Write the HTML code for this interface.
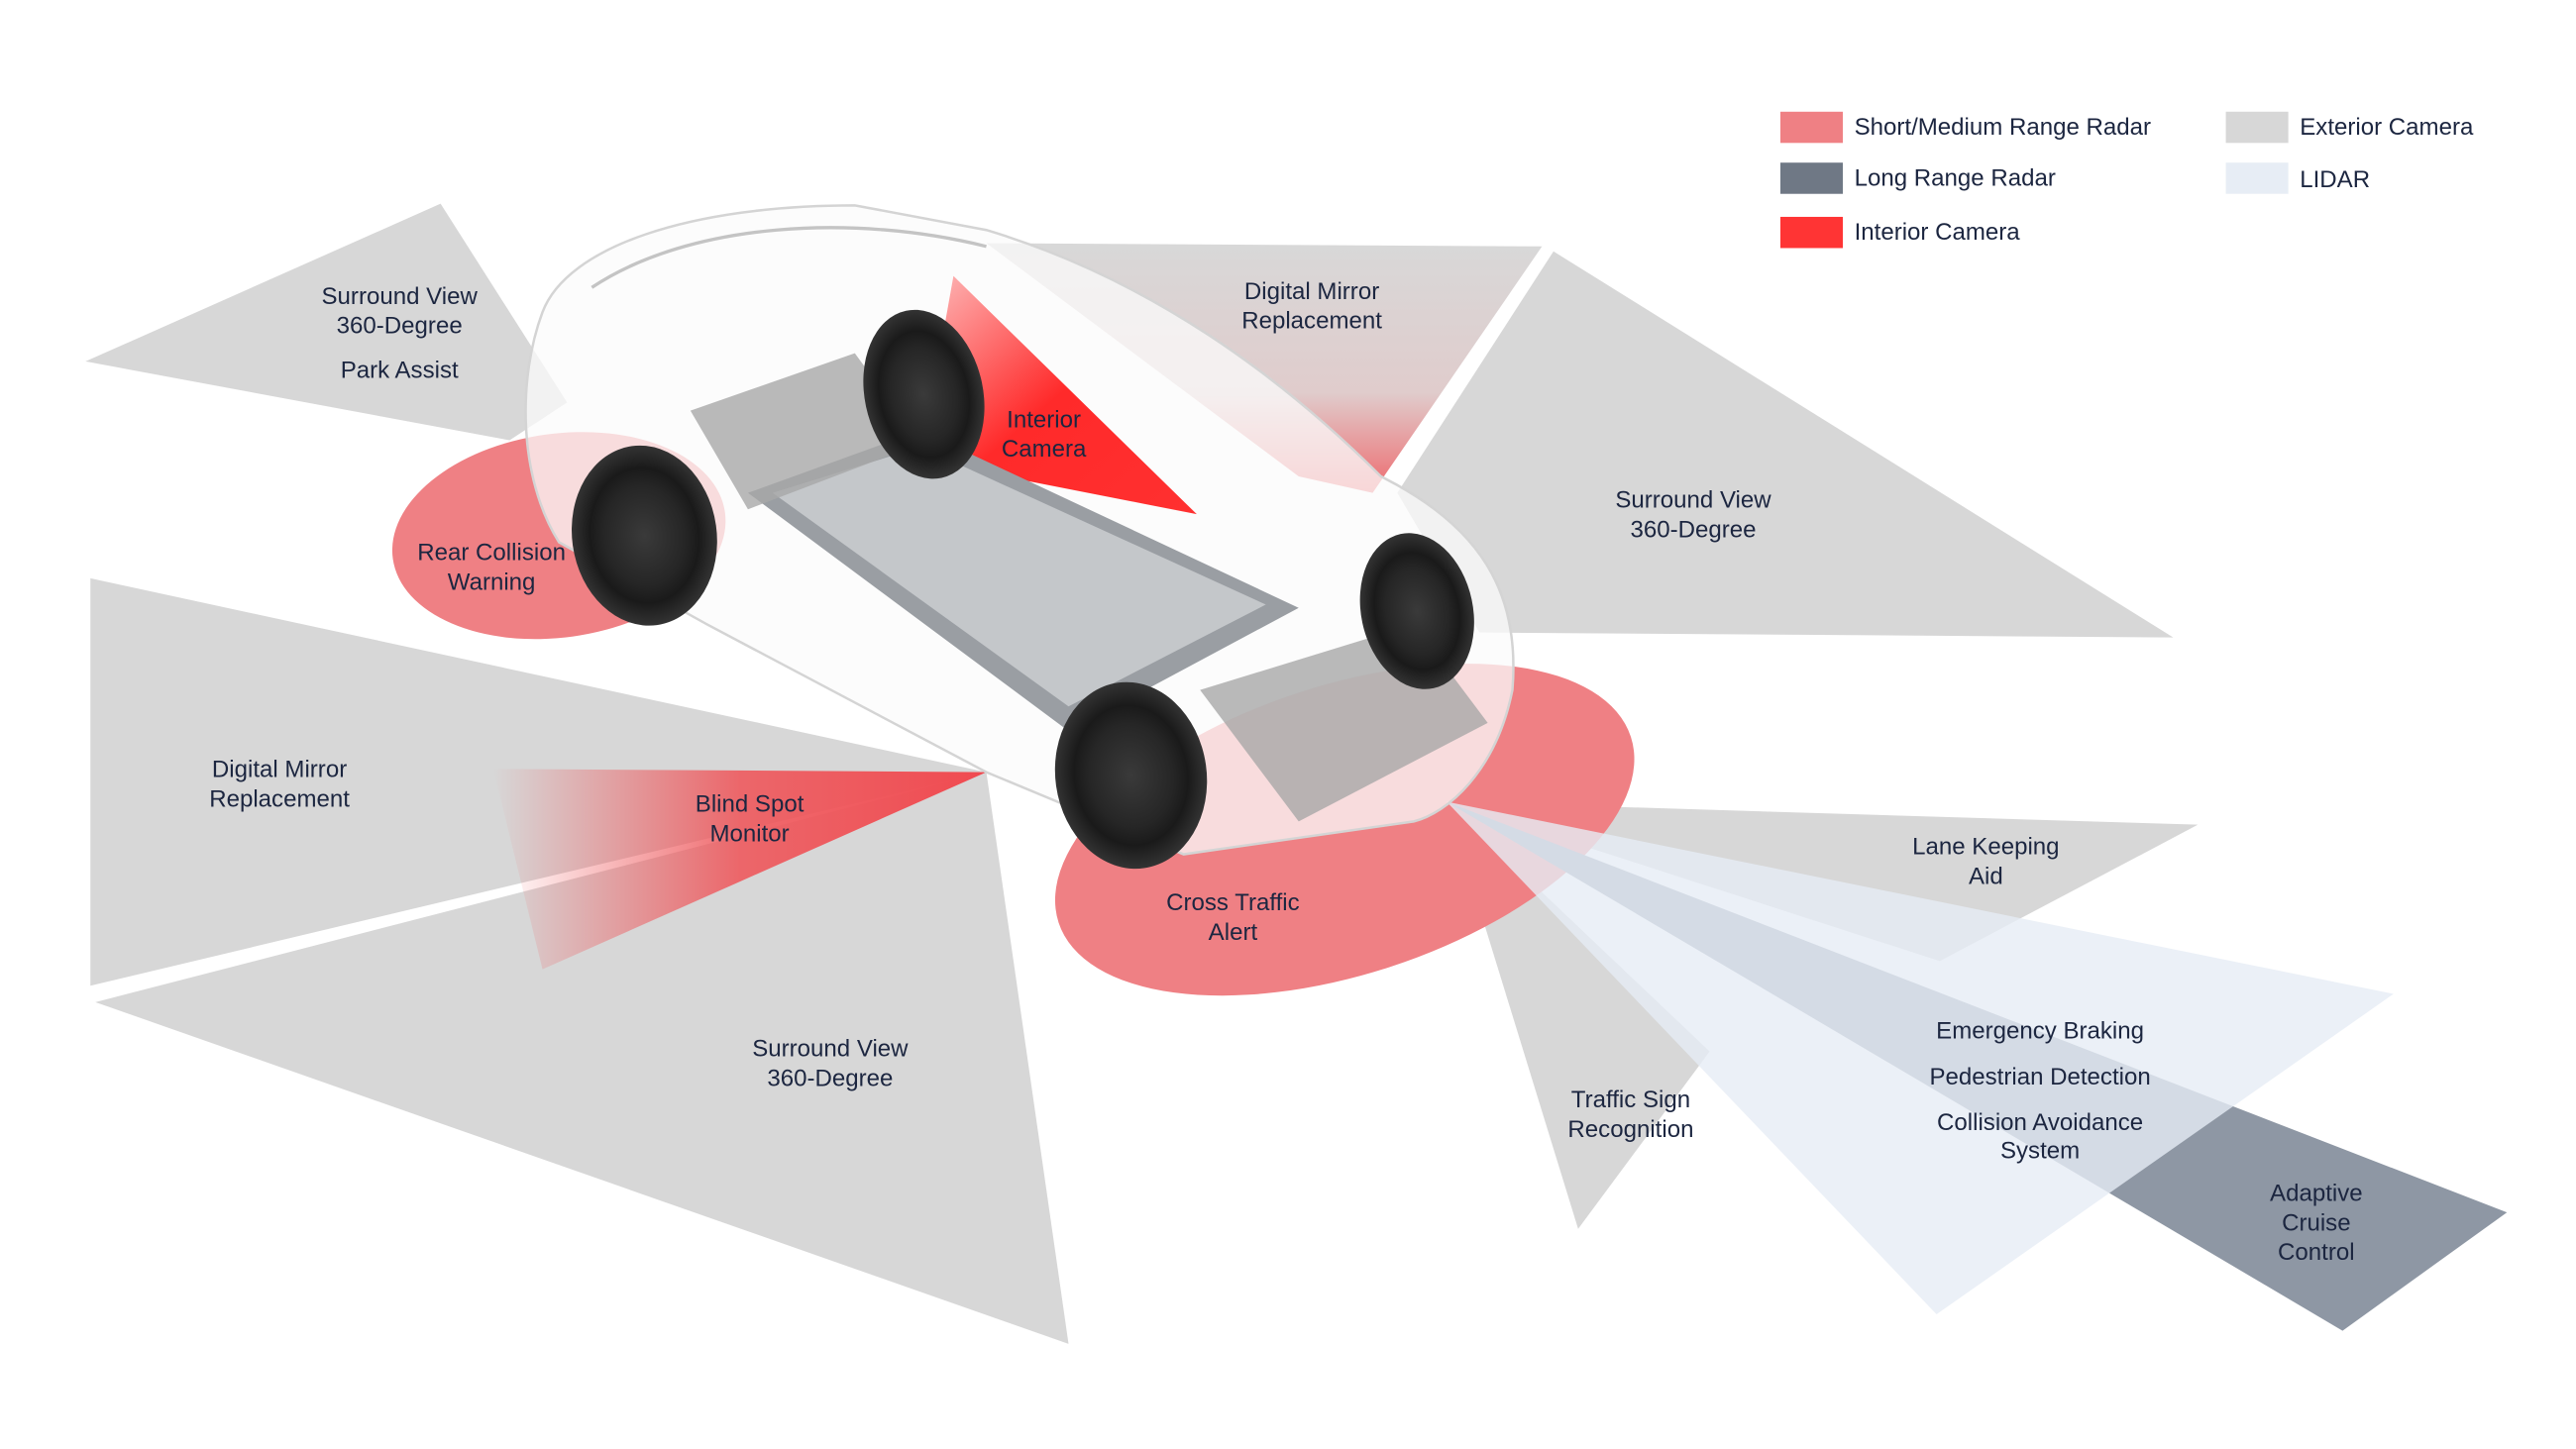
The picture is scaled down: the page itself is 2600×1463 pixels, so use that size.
<!DOCTYPE html>
<html><head><meta charset="utf-8"><style>
html,body{margin:0;padding:0;background:#fff;}
svg{display:block}
text{font-family:"Liberation Sans",sans-serif;font-size:14.5px;fill:#1c2640;text-anchor:middle}
</style></head><body>
<svg width="2600" height="1463" viewBox="0 0 1567 882" preserveAspectRatio="none" xmlns="http://www.w3.org/2000/svg">
<defs>
<linearGradient id="bs" x1="0" y1="0" x2="1" y2="0">
<stop offset="0" stop-color="#ee5a5e" stop-opacity="0"/><stop offset="0.5" stop-color="#ee5a5e" stop-opacity="0.9"/><stop offset="1" stop-color="#f04a50"/></linearGradient>
<linearGradient id="ic" x1="0" y1="0" x2="1" y2="1">
<stop offset="0" stop-color="#ff2a2a" stop-opacity="0.3"/><stop offset="0.5" stop-color="#ff2a2a"/><stop offset="1" stop-color="#ff3030"/></linearGradient>
<linearGradient id="dm" x1="0" y1="0" x2="0" y2="1">
<stop offset="0" stop-color="#d8d8d8"/><stop offset="0.6" stop-color="#e0cccc"/><stop offset="1" stop-color="#ee6a6e"/></linearGradient>
<radialGradient id="wh" cx="0.5" cy="0.5" r="0.5"><stop offset="0" stop-color="#3a3a3a"/><stop offset="0.55" stop-color="#262626"/><stop offset="0.75" stop-color="#1a1a1a"/><stop offset="1" stop-color="#333"/></radialGradient>
</defs>
<polygon points="52,220 268,124 345,245 310,268" fill="#d7d7d7"/>
<polygon points="55,352 600,470 55,600" fill="#d7d7d7"/>
<polygon points="58,610 600,470 650,818" fill="#d7d7d7"/>
<polygon points="600,148 938,150 835,300 790,290" fill="url(#dm)"/>
<polygon points="945,153 1322,388 900,385 850,300" fill="#d7d7d7"/>
<polygon points="880,488 1337,502 1180,585" fill="#d7d7d7"/>
<polygon points="880,488 1040,640 960,748" fill="#d7d7d7"/>
<ellipse cx="340" cy="326" rx="102" ry="62" transform="rotate(-8 340 326)" fill="#ef8084"/>
<ellipse cx="818" cy="505" rx="183" ry="88" transform="rotate(-18 818 505)" fill="#ef8084"/>
<polygon points="300,468 600,470 330,590" fill="url(#bs)"/>
<polygon points="880,488 1525,738 1425,810" fill="#8e97a4"/>
<polygon points="880,488 1456,605 1178,800" fill="#e6ecf5" opacity="0.8"/>
<path d="M330,190 C345,150 420,125 520,125 L600,140 C700,170 780,230 840,290 C900,320 925,360 920,420 C910,470 880,495 860,500 L720,520 L600,470 L430,380 L340,330 C315,290 315,230 330,190Z" fill="#fbfbfb" fill-opacity="0.75" stroke="#d4d4d4" stroke-width="1.5"/>
<path d="M360,175 C420,135 520,130 600,150" fill="none" stroke="#c4c4c4" stroke-width="2"/>
<polygon points="580,168 728,313 560,280" fill="url(#ic)"/>
<polygon points="455,300 560,262 790,370 650,445" fill="#9a9ea3"/>
<polygon points="470,300 560,272 770,368 650,430" fill="#c4c7ca"/>
<polygon points="420,250 520,215 560,270 455,310" fill="#a8a8a8" opacity="0.8"/>
<polygon points="730,420 860,380 905,440 790,500" fill="#a8a8a8" opacity="0.8"/>
<ellipse cx="562" cy="240" rx="36" ry="52" fill="url(#wh)" transform="rotate(-12 562 240)"/>
<ellipse cx="862" cy="372" rx="34" ry="48" fill="url(#wh)" transform="rotate(-12 862 372)"/>
<ellipse cx="392" cy="326" rx="44" ry="55" fill="url(#wh)" transform="rotate(-8 392 326)"/>
<ellipse cx="688" cy="472" rx="46" ry="57" fill="url(#wh)" transform="rotate(-8 688 472)"/>
<text x="243" y="185">Surround View</text><text x="243" y="203">360-Degree</text>
<text x="243" y="230">Park Assist</text>
<text x="299" y="341">Rear Collision</text><text x="299" y="359">Warning</text>
<text x="170" y="473">Digital Mirror</text><text x="170" y="491">Replacement</text>
<text x="456" y="494">Blind Spot</text><text x="456" y="512">Monitor</text>
<text x="505" y="643">Surround View</text><text x="505" y="661">360-Degree</text>
<text x="635" y="260">Interior</text><text x="635" y="278">Camera</text>
<text x="798" y="182">Digital Mirror</text><text x="798" y="200">Replacement</text>
<text x="1030" y="309">Surround View</text><text x="1030" y="327">360-Degree</text>
<text x="750" y="554">Cross Traffic</text><text x="750" y="572">Alert</text>
<text x="1208" y="520">Lane Keeping</text><text x="1208" y="538">Aid</text>
<text x="1241" y="632">Emergency Braking</text>
<text x="1241" y="660">Pedestrian Detection</text>
<text x="1241" y="688">Collision Avoidance</text><text x="1241" y="705">System</text>
<text x="992" y="674">Traffic Sign</text><text x="992" y="692">Recognition</text>
<text x="1409" y="731">Adaptive</text><text x="1409" y="749">Cruise</text><text x="1409" y="767">Control</text>
<rect x="1083" y="68" width="38" height="19" fill="#ef8084"/>
<rect x="1083" y="99" width="38" height="19" fill="#6f7885"/>
<rect x="1083" y="132" width="38" height="19" fill="#ff3434"/>
<rect x="1354" y="68" width="38" height="19" fill="#d7d7d7"/>
<rect x="1354" y="99" width="38" height="19" fill="#e7edf5"/>
<text x="1128" y="82" style="text-anchor:start">Short/Medium Range Radar</text>
<text x="1128" y="113" style="text-anchor:start">Long Range Radar</text>
<text x="1128" y="146" style="text-anchor:start">Interior Camera</text>
<text x="1399" y="82" style="text-anchor:start">Exterior Camera</text>
<text x="1399" y="114" style="text-anchor:start">LIDAR</text>
</svg>
</body></html>
